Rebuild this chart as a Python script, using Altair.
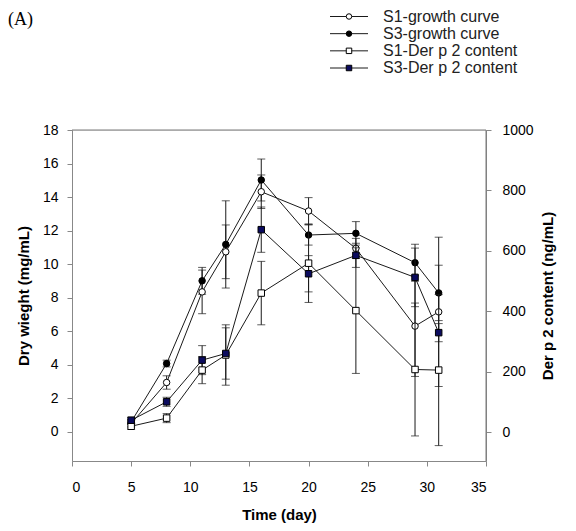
import altair as alt
import pandas as pd

# ---- data ----
days = [5, 8, 11, 13, 16, 20, 24, 29, 31]

s1_growth = [0.5, 2.95, 8.35, 10.74, 14.32, 13.17, 10.94, 6.31, 7.16]
s1_growth_err = [0.2, 0.4, 1.3, 1.6, 1.0, 0.8, 0.6, 3.0, 4.45]
s3_growth = [0.6, 4.08, 9.01, 11.18, 15.02, 11.74, 11.84, 10.09, 8.29]
s3_growth_err = [0.15, 0.2, 0.8, 2.6, 1.25, 0.6, 0.7, 1.1, 1.65]

s1_der = [19, 46, 205, 255, 460, 559, 402, 207, 205]
s1_der_err = [10, 15, 45, 100, 105, 130, 208, 220, 250]
s3_der = [39, 100, 238, 260, 670, 524, 585, 512, 329]
s3_der_err = [10, 15, 48, 85, 75, 60, 40, 97, 30]

series_names = ["S1-growth curve", "S3-growth curve", "S1-Der p 2 content", "S3-Der p 2 content"]
shapes = ["circle", "circle", "square", "square"]
fills = ["white", "black", "white", "#0b0b5e"]

left_ticks = [0, 2, 4, 6, 8, 10, 12, 14, 16, 18]
right_ticks = [0, 200, 400, 600, 800, 1000]
x_ticks = [0, 5, 10, 15, 20, 25, 30, 35]


def long_df(name, vals, errs):
    return pd.DataFrame({
        "day": days,
        "value": vals,
        "lo": [v - e for v, e in zip(vals, errs)],
        "hi": [v + e for v, e in zip(vals, errs)],
        "series": name,
    })


growth = pd.concat([long_df(series_names[0], s1_growth, s1_growth_err),
                    long_df(series_names[1], s3_growth, s3_growth_err)])
der = pd.concat([long_df(series_names[2], s1_der, s1_der_err),
                 long_df(series_names[3], s3_der, s3_der_err)])
legend_df = pd.DataFrame({"series": series_names})

FONT = "Liberation Sans"
LINE = "#1a1a1a"
AXC = "#7a7a7a"
W, H = 414, 331

x_scale = alt.Scale(domain=[0, 35], nice=False, zero=False)
x_axis = alt.Axis(values=x_ticks, title="Time (day)", labelFontSize=14,
                  titleFontSize=15, labelPadding=14, titlePadding=13,
                  grid=False, labelOverlap=False)

shape_scale = alt.Scale(domain=series_names, range=shapes)
fill_scale = alt.Scale(domain=series_names, range=fills)


def panel(df, ydom, ticks, title, orient):
    yscale = alt.Scale(domain=ydom, nice=False, zero=False)
    extra = {"titleAngle": 270, "titleBaseline": "top"} if orient == "right" else {}
    axis = alt.Axis(values=ticks, title=title, orient=orient, grid=False, format="d",
                    labelFontSize=14, titleFontSize=15, labelOverlap=False,
                    labelPadding=9 if orient == "left" else 11,
                    titlePadding=11 if orient == "left" else 7, **extra)

    def X(f="day"):
        return alt.X(f + ":Q", scale=x_scale, axis=x_axis)

    def Y(f):
        return alt.Y(f + ":Q", scale=yscale, axis=axis)

    base = alt.Chart(df)
    bars = base.mark_rule(color=LINE, strokeWidth=1).encode(
        x=X(), y=Y("lo"), y2="hi:Q")
    cap_lo = base.mark_tick(color=LINE, orient="horizontal", size=8, thickness=1).encode(
        x=X(), y=Y("lo"))
    cap_hi = base.mark_tick(color=LINE, orient="horizontal", size=8, thickness=1).encode(
        x=X(), y=Y("hi"))
    lines = base.mark_line(color=LINE, strokeWidth=1).encode(
        x=X(), y=Y("value"), detail="series:N")
    pts = base.mark_point(size=42, stroke="black", strokeWidth=1, opacity=1,
                          fillOpacity=1, filled=True).encode(
        x=X(), y=Y("value"),
        shape=alt.Shape("series:N", scale=shape_scale, legend=None),
        fill=alt.Fill("series:N", scale=fill_scale, legend=None))
    return alt.layer(bars, cap_lo, cap_hi, lines, pts)


left = panel(growth, [-1.73, 18], left_ticks, "Dry wieght (mg/mL)", "left")
right = panel(der, [-96, 1000], right_ticks, "Der p 2 content (ng/mL)", "right")

# manual legend above the plot area
ly = alt.Y("series:N", scale=alt.Scale(type="point", domain=series_names,
                                          range=[-113.5, -62], padding=0), axis=None)
lbase = alt.Chart(legend_df)
lrule = lbase.mark_rule(color=LINE, strokeWidth=1).encode(
    x=alt.value(258), x2=alt.value(296), y=ly)
lpts = lbase.mark_point(size=30, stroke="black", strokeWidth=1, opacity=1,
                        fillOpacity=1, filled=True).encode(
    x=alt.value(277), y=ly,
    shape=alt.Shape("series:N", scale=shape_scale, legend=None),
    fill=alt.Fill("series:N", scale=fill_scale, legend=None))
ltext = lbase.mark_text(align="left", baseline="middle", font=FONT, fontSize=16,
                        color="#222").encode(x=alt.value(311), y=ly, text="series:N")
legend = alt.layer(lrule, lpts, ltext)

# frame lines (top and right) of the plot box
frame_df = pd.DataFrame({"k": [0]})
frame_top = alt.Chart(frame_df).mark_rule(color=AXC, strokeWidth=1).encode(
    x=alt.value(0), x2=alt.value(W), y=alt.value(0))
frame_right = alt.Chart(frame_df).mark_rule(color=AXC, strokeWidth=1).encode(
    x=alt.value(W), y=alt.value(0), y2=alt.value(H))

label_a = alt.Chart(pd.DataFrame({"t": ["(A)"]})).mark_text(
    align="left", baseline="middle", font="Liberation Serif", fontSize=18, color="black"
).encode(x=alt.value(-64), y=alt.value(-110), text="t:N")

chart = alt.layer(left, right, legend, frame_top, frame_right, label_a).resolve_scale(
    y="independent"
).properties(
    width=W, height=H,
    autosize=alt.AutoSizeParams(type="none"),
    padding={"left": 64, "top": 122, "right": 82, "bottom": 62},
).configure_view(
    stroke=AXC, strokeWidth=1
).configure_axis(
    labelFont=FONT, titleFont=FONT, labelColor="#6a6a6a", titleColor="#222",
    titleFontWeight="bold", domainColor=AXC, tickColor=AXC, tickSize=5,
    domainWidth=1, tickWidth=1
).configure(background="white")

chart.save("out.html", embed_options={"renderer": "svg", "actions": False})
